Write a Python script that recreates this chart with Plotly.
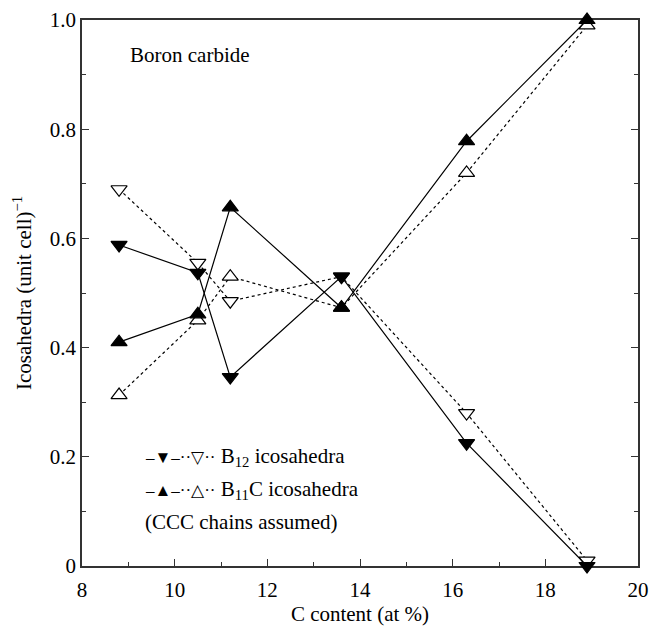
import plotly.graph_objects as go

c_content = [8.8, 10.5, 11.2, 13.6, 16.3, 18.9]
b12_solid = [0.588, 0.537, 0.346, 0.530, 0.225, 0.000]
b12_dashed = [0.690, 0.555, 0.485, 0.530, 0.280, 0.010]
b11c_solid = [0.410, 0.461, 0.657, 0.473, 0.778, 1.000]
b11c_dashed = [0.313, 0.450, 0.530, 0.473, 0.720, 0.990]

FONT = '"Liberation Serif", "Times New Roman", Times, serif'
FS = 21
fig = go.Figure()

def add(y, symbol, dash, filled):
    fig.add_trace(go.Scatter(
        x=c_content, y=y, mode="lines+markers",
        line=dict(color="black", width=1.2, dash=dash),
        marker=dict(symbol=symbol, size=14,
                    color="black" if filled else "white",
                    line=dict(color="black", width=1.2)),
        cliponaxis=False, showlegend=False))

add(b12_dashed, "triangle-down", "3px,3px", False)
add(b11c_dashed, "triangle-up", "3px,3px", False)
add(b12_solid, "triangle-down", "solid", True)
add(b11c_solid, "triangle-up", "solid", True)

annos = [
    dict(x=9.0, y=0.935, text="Boron carbide"),
    dict(x=9.32, y=0.20,
         text="<span style='font-size:17px'>–▼–··▽··</span> B<sub>12</sub> icosahedra"),
    dict(x=9.32, y=0.14,
         text="<span style='font-size:17px'>–▲–··△··</span> B<sub>11</sub>C icosahedra"),
    dict(x=9.32, y=0.08, text="(CCC chains assumed)"),
]
for a in annos:
    fig.add_annotation(xref="x", yref="y", showarrow=False, yanchor="middle", xanchor="left",
                       font=dict(family=FONT, size=FS, color="black"), **a)

# y-axis title as rotated annotation placed left of tick labels
fig.add_annotation(xref="paper", yref="paper", x=-0.108, y=0.5, showarrow=False,
                   textangle=-90, xanchor="center", yanchor="middle",
                   text="Icosahedra (unit cell)<sup>−1</sup>",
                   font=dict(family=FONT, size=FS, color="black"))

axis_common = dict(showgrid=False, zeroline=False, showline=True, linecolor="#333",
                   linewidth=1.5, ticks="inside", ticklen=7, tickwidth=1.2,
                   tickcolor="#333", layer="below traces", automargin=False,
                   tickfont=dict(family=FONT, size=FS, color="black"))
fig.update_xaxes(range=[8, 20], dtick=2, mirror=True, ticklabelstandoff=4,
                 minor=dict(dtick=1, ticks="inside", ticklen=4, tickcolor="#333"),
                 title=dict(text="C content (at %)", font=dict(family=FONT, size=FS, color="black"),
                            standoff=2),
                 **axis_common)
fig.update_yaxes(range=[0, 1.0], dtick=0.2, mirror="ticks",
                 tickvals=[0, 0.2, 0.4, 0.6, 0.8, 1.0],
                 ticktext=["0", "0.2", "0.4", "0.6", "0.8", "1.0"],
                 minor=dict(dtick=0.1, ticks="inside", ticklen=4, tickcolor="#333"),
                 **axis_common)
fig.update_layout(width=652, height=626, margin=dict(l=82, r=14, t=20, b=60),
                  plot_bgcolor="white", paper_bgcolor="white",
                  font=dict(family=FONT))
fig.write_html("out.html")
